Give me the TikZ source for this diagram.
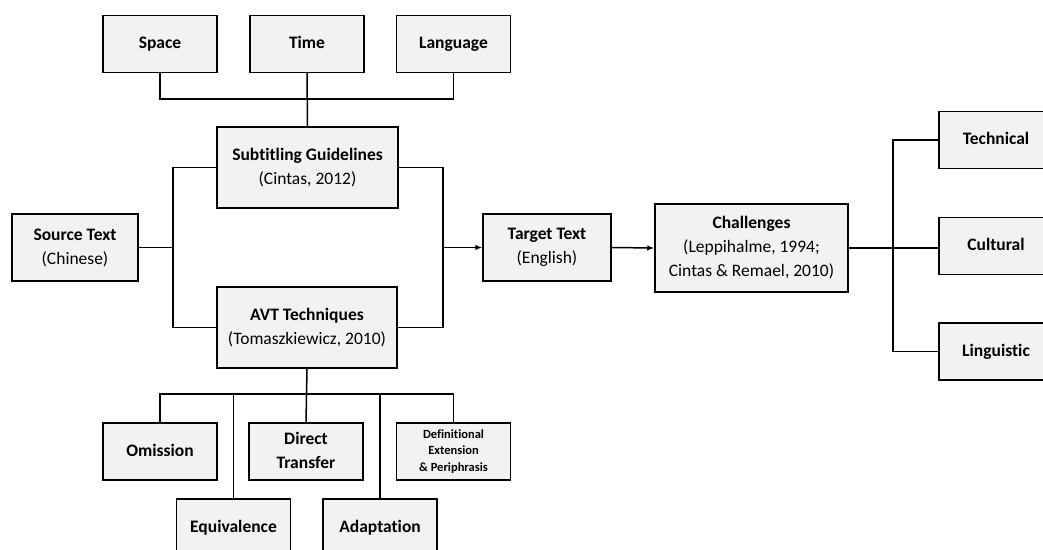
\documentclass[tikz,border=0pt]{standalone}
\usepackage{fontspec}
\setmainfont{Carlito}[Ligatures=NoCommon]
\usetikzlibrary{arrows.meta}

\begin{document}
\begin{tikzpicture}[x=1pt,y=1pt,
  box/.style={draw=drawColor,line width=1.5pt,fill=fillColor,align=center,inner sep=2pt,
    font=\fontsize{17.5}{24}\selectfont},
  leaf/.style={box,minimum width=114pt,minimum height=57pt,execute at begin node={\vphantom{Ag}}},
  small/.style={font=\fontsize{12.5}{16.5}\selectfont},
  link/.style={draw=drawColor,line width=1.5pt},
  feed/.style={link,-{Latex[length=7pt,width=5.5pt]}}]
\definecolor{bgColor}{RGB}{255,255,255}
\definecolor{fillColor}{RGB}{242,242,242}
\definecolor{drawColor}{RGB}{0,0,0}
\path[use as bounding box,fill=bgColor] (0,0) rectangle (1043,549);
\begin{scope}
\path[clip] (0,0) rectangle (1043,549);

% top row
\node[leaf] (space) at (160,505) {\textbf{Space}};
\node[leaf] (time) at (307,505) {\textbf{Time}};
\node[leaf] (language) at (453.5,505) {\textbf{Language}};

% middle
\node[box,minimum width=181pt,minimum height=81pt] (subtitling) at (307.5,381.5)
  {\textbf{Subtitling Guidelines}\\(Cintas, 2012)};
\node[box,minimum width=126pt,minimum height=67pt] (source) at (75,301.5)
  {\textbf{Source Text}\\(Chinese)};
\node[box,minimum width=180pt,minimum height=81pt] (avt) at (307,221.5)
  {\textbf{AVT Techniques}\\(Tomaszkiewicz, 2010)};
\node[box,minimum width=128pt,minimum height=67pt] (target) at (547,301.5)
  {\textbf{Target Text}\\(English)};
\node[box,minimum width=193pt,minimum height=88pt] (challenges) at (751.5,301)
  {\textbf{Challenges}\\(Leppihalme, 1994;\\Cintas \& Remael, 2010)};

% right column
\node[leaf] (technical) at (996,409) {\textbf{Technical}};
\node[leaf] (cultural) at (996,303) {\textbf{Cultural}};
\node[leaf] (linguistic) at (996,197.5) {\textbf{Linguistic}};

% bottom rows
\node[leaf] (omission) at (160,97.5) {\textbf{Omission}};
\node[leaf] (direct) at (306,97.5) {\textbf{Direct}\\\textbf{Transfer}};
\node[leaf,small] (definitional) at (453.5,97.5)
  {\textbf{Definitional}\\\textbf{Extension}\\\textbf{\& Periphrasis}};
\node[leaf] (equivalence) at (233.5,21.5) {\textbf{Equivalence}};
\node[leaf] (adaptation) at (380,21.5) {\textbf{Adaptation}};

\coordinate (topbus) at (307,450);
\coordinate (lsplit) at (173,301.5);
\coordinate (rsplit) at (443,301.5);
\coordinate (csplit) at (893,301);
\coordinate (botbus) at (306,155);

\draw[link] (space.south) |- (topbus) -| (language.south);
\draw[link] (time.south) -- (subtitling.north);

\draw[link] (subtitling.west) -| (lsplit) |- (avt.west);
\draw[link] (source.east) -- (lsplit);
\draw[link] (subtitling.east) -| (rsplit) |- (avt.east);
\draw[feed] (rsplit) -- (target.west);
\draw[feed] (target.east) -- (challenges.west);

\draw[link] (challenges.east) -- (challenges.east -| cultural.west);
\draw[link] (technical.west) -| (csplit) |- (linguistic.west);

\draw[link] (avt.south) -- (direct.north);
\draw[link] (omission.north) |- (botbus) -| (definitional.north);
\draw[link] (equivalence.north) -- (equivalence.north |- botbus);
\draw[link] (adaptation.north) -- (adaptation.north |- botbus);
\end{scope}
\end{tikzpicture}
\end{document}
